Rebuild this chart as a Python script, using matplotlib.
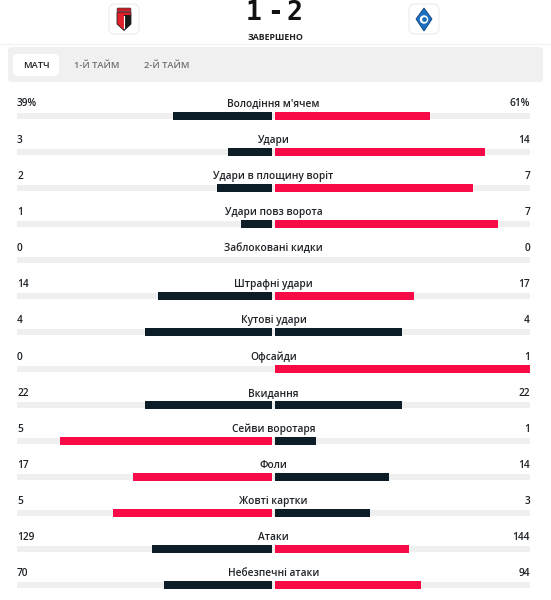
import matplotlib
matplotlib.use("Agg")
import matplotlib.pyplot as plt
from matplotlib.patches import FancyBboxPatch, Polygon, Circle

# ---- data ----
categories = ["Володіння м'ячем", "Удари", "Удари в площину воріт", "Удари повз ворота",
              "Заблоковані кидки", "Штрафні удари", "Кутові удари", "Офсайди",
              "Вкидання", "Сейви воротаря", "Фоли", "Жовті картки", "Атаки",
              "Небезпечні атаки"]
home_values = [39, 3, 2, 1, 0, 14, 4, 0, 22, 5, 17, 5, 129, 70]
away_values = [61, 14, 7, 7, 0, 17, 4, 1, 22, 1, 14, 3, 144, 94]
home_labels = ["39%", "3", "2", "1", "0", "14", "4", "0", "22", "5", "17", "5", "129", "70"]
away_labels = ["61%", "14", "7", "7", "0", "17", "4", "1", "22", "1", "14", "3", "144", "94"]
score_home, score_away = "1", "2"
status = "ЗАВЕРШЕНО"
tabs = ["МАТЧ", "1-Й ТАЙМ", "2-Й ТАЙМ"]

RED = "#f80a46"
DARK = "#0c1d28"
TRACK = "#efefef"
TEXT = "#1e2328"

plt.rcParams['font.family'] = ['Open Sans', 'DejaVu Sans']

W, H = 551, 600
fig = plt.figure(figsize=(W / 100, H / 100), dpi=100)
fig.patch.set_facecolor("white")

# header axes in pixel units
ax = fig.add_axes([0, 0, 1, 1])
ax.set_xlim(0, W)
ax.set_ylim(H, 0)
ax.axis("off")

# logos
for cx in (124, 424):
    ax.add_patch(FancyBboxPatch((cx - 15, 4), 30, 30, boxstyle="round,pad=0,rounding_size=6",
                                fc="white", ec="#ececec", lw=0.8))
# left logo: red/black shield
ax.add_patch(Polygon([[117, 12], [131, 12], [131, 24], [124, 30.5], [117, 24]], closed=True,
                     fc="#e0202a", ec="#222222", lw=0.6))
ax.add_patch(Polygon([[124, 15], [131, 15], [131, 24], [124, 30.5]], closed=True, fc="#1a1a1a", lw=0))
ax.add_patch(FancyBboxPatch((117, 8), 14, 3.5, boxstyle="round,pad=0,rounding_size=1",
                            fc="#c81e28", ec="#333333", lw=0.4))
ax.plot([124, 124], [16, 28], color="white", lw=0.8)
# right logo: blue diamond
ax.add_patch(Polygon([[424, 8], [432, 19], [424, 31], [416, 19]], closed=True, fc="#1d6fc2", ec="#0c3f80", lw=0.6))
ax.add_patch(Circle((424, 19.5), 4.2, fc="white", lw=0))
ax.add_patch(Circle((424.5, 19.5), 2.4, fc="#1d6fc2", lw=0))

# score
for x, s in zip((254, 275, 294), (score_home, "-", score_away)):
    ax.text(x, 13, s, ha="center", va="center", fontsize=19, fontweight="bold",
            family=["DejaVu Sans Mono"], color="#111111")
ax.text(275, 37, status, ha="center", va="center", fontsize=6.3, fontweight="bold", color="#222222")

# thin divider under header
ax.plot([0, W], [44, 44], color="#f3f3f3", lw=1)

# tab bar
ax.add_patch(FancyBboxPatch((8, 47), 535, 35, boxstyle="round,pad=0,rounding_size=3",
                            fc="#f0f0f0", ec="none"))
ax.add_patch(FancyBboxPatch((13, 54), 46, 22, boxstyle="round,pad=0,rounding_size=5",
                            fc="white", ec="none"))
tab_x = [36, 97, 167]
for i, (t, x) in enumerate(zip(tabs, tab_x)):
    ax.text(x, 65, t, ha="center", va="center", fontsize=6.7, fontweight="semibold",
            color="#222222" if i == 0 else "#6f6f6f")

# stats axes: x in share units (-1..1), y in pixels
ax2 = fig.add_axes([17 / W, 0, 513 / W, 1])
ax2.set_xlim(-1, 1)
ax2.set_ylim(H, 0)
ax2.axis("off")

half_px = 256.5
gap = 1.5 / half_px
row0, step = 102.0, 36.15
for i, cat in enumerate(categories):
    ly = row0 + step * i
    by = ly + 13.5
    ax2.barh(by, 2, left=-1, height=6, color=TRACK, lw=0)
    h, a = home_values[i], away_values[i]
    tot = h + a
    if tot > 0:
        hs, as_ = h / tot, a / tot
        hc = RED if h > a else DARK
        ac = RED if a > h else DARK
        if h > 0:
            ax2.barh(by, -(hs - gap), left=-gap, height=8, color=hc, lw=0)
        if a > 0:
            ax2.barh(by, as_ - gap, left=gap, height=8, color=ac, lw=0)
    ty = ly + 2
    ax2.text(-1, ty, home_labels[i], ha="left", va="center", fontsize=7.3,
             fontweight="semibold", color=TEXT)
    ax2.text(1, ty, away_labels[i], ha="right", va="center", fontsize=7.3,
             fontweight="semibold", color=TEXT)
    ax2.text(0, ty, cat, ha="center", va="center", fontsize=7.3,
             fontweight="semibold", color=TEXT)

fig.savefig("out.png", dpi=100, facecolor="white")
